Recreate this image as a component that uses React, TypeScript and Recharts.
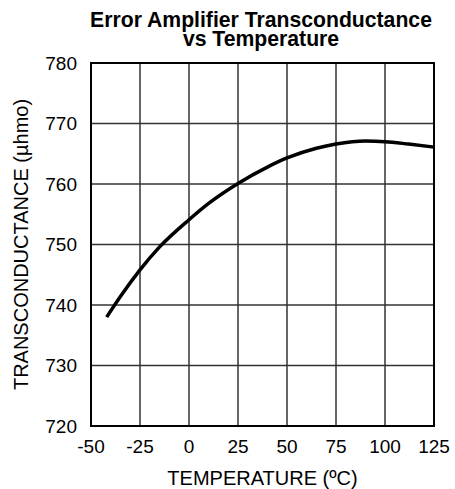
import React from 'react';
import { LineChart, Line, XAxis, YAxis, CartesianGrid, ReferenceArea, Label } from 'recharts';

const temperatures = [-42, -35, -25, -15, 0, 10, 25, 40, 50, 65, 75, 90, 100, 112, 125];
const transconductance = [738, 741.4, 745.8, 749.6, 754.1, 756.8, 760.1, 762.8, 764.3, 765.9, 766.6, 767.1, 767.0, 766.6, 766.1];
const xTicks = [-50, -25, 0, 25, 50, 75, 100, 125];
const yTicks = [720, 730, 740, 750, 760, 770, 780];
const titleLines = ['Error Amplifier Transconductance', 'vs Temperature'];

const data = temperatures.map((t, i) => ({ t, g: transconductance[i] }));

const FONT = '"Liberation Sans", Arial, sans-serif';

export default function App() {
  return (
    <div style={{ position: 'absolute', left: 0, top: 0, width: 455, height: 489, background: '#fff', fontFamily: FONT }}>
      <svg width={455} height={60} style={{ position: 'absolute', left: 0, top: 0 }}>
        <text textAnchor="middle" fontFamily={FONT} fontWeight="bold" fontSize={21.2} fill="#000">
          <tspan x={261} y={27}>{titleLines[0]}</tspan>
          <tspan x={261} y={46}>{titleLines[1]}</tspan>
        </text>
      </svg>
      <LineChart width={455} height={489} data={data} margin={{ top: 63, right: 21, bottom: 33, left: 41 }} style={{ position: 'absolute', left: 0, top: 0 }}>
        <CartesianGrid stroke="#333" strokeWidth={1.5} />
        <XAxis
          dataKey="t"
          type="number"
          domain={[-50, 125]}
          ticks={xTicks}
          interval={0}
          axisLine={false}
          tickLine={false}
          height={30}
          tick={{ fill: '#000', fontSize: 19, fontFamily: FONT }}
          tickMargin={8}
        >
          <Label value="TEMPERATURE (ºC)" position="bottom" offset={15} style={{ fill: '#000', fontSize: 20, fontFamily: FONT }} />
        </XAxis>
        <YAxis
          type="number"
          domain={[720, 780]}
          ticks={yTicks}
          interval={0}
          axisLine={false}
          tickLine={false}
          width={50}
          tick={{ fill: '#000', fontSize: 19, fontFamily: FONT }}
          tickMargin={8}
        >
          <Label value="TRANSCONDUCTANCE (µhmo)" angle={-90} position="insideLeft" offset={-20} style={{ textAnchor: 'middle', fill: '#000', fontSize: 20, fontFamily: FONT }} />
        </YAxis>
        <ReferenceArea x1={-50} x2={125} y1={720} y2={780} fill="none" stroke="#000" strokeWidth={2} ifOverflow="visible" />
        <Line type="monotone" dataKey="g" stroke="#000" strokeWidth={3.5} dot={false} isAnimationActive={false} />
      </LineChart>
    </div>
  );
}
